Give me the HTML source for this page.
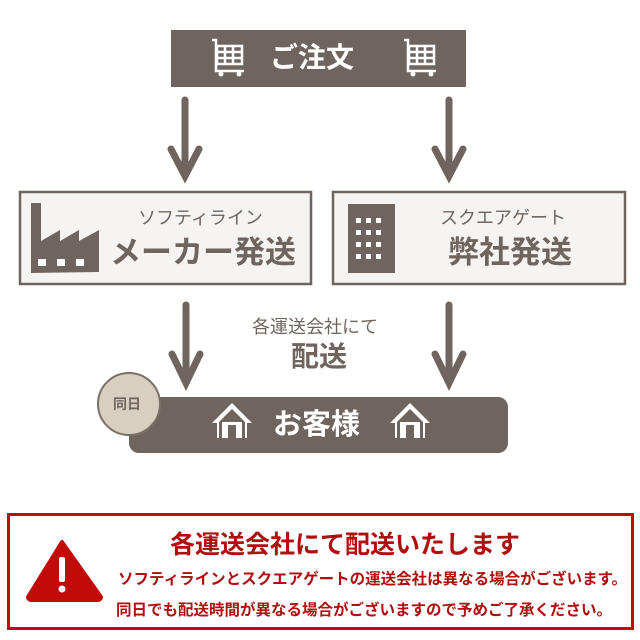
<!DOCTYPE html>
<html><head><meta charset="utf-8"><style>
body{margin:0;width:640px;height:640px;background:#fff;position:relative;overflow:hidden;font-family:"Liberation Sans","Noto Sans CJK JP",sans-serif;}
.a{position:absolute}
.t{position:absolute;white-space:nowrap;font-weight:bold}
</style></head><body>
<svg class="a" style="left:0;top:0" width="640" height="640">
<rect x="171" y="30" width="295" height="57" fill="#70655e"/>
<g fill="none" stroke="#fff" stroke-width="2.5">
<path d="M212 40 h4 v31 h28"/><rect x="217" y="46" width="25" height="18"/><path d="M217 52h25M217 58h25M225 46v18M233 46v18"/>
<path d="M404 40 h4 v31 h28"/><rect x="409" y="46" width="25" height="18"/><path d="M409 52h25M409 58h25M417 46v18M425 46v18"/>
</g>
<g fill="#fff"><circle cx="221" cy="74" r="2.5"/><circle cx="239" cy="74" r="2.5"/><circle cx="413" cy="74" r="2.5"/><circle cx="431" cy="74" r="2.5"/></g>
<g stroke="#70655e" stroke-width="7" fill="none" stroke-linecap="round">
<path d="M185 100V174M171 149l14 27 14-27"/>
<path d="M449 100V174M435 149l14 27 14-27"/>
<path d="M186 305V382M172 354l14 29 14-29"/>
<path d="M449 305V382M435 354l14 29 14-29"/>
</g>
<rect x="20" y="192" width="291" height="92" fill="#f6f4f2" stroke="#70655e" stroke-width="2.5"/>
<rect x="333" y="192" width="292" height="92" fill="#f6f4f2" stroke="#70655e" stroke-width="2.5"/>
<path d="M31 273V203h10v38l19-11v11l19-11v11l20-11v42z" fill="#70655e"/>
<g fill="#fff"><rect x="38" y="259" width="8" height="7"/><rect x="57" y="259" width="8" height="7"/><rect x="76" y="259" width="8" height="7"/></g>
<rect x="348" y="204" width="47" height="69" fill="#70655e"/>
<g fill="#fff"><rect x="356" y="218" width="5" height="5"/><rect x="366" y="218" width="5" height="5"/><rect x="376" y="218" width="5" height="5"/><rect x="356" y="230" width="5" height="5"/><rect x="366" y="230" width="5" height="5"/><rect x="376" y="230" width="5" height="5"/><rect x="356" y="242" width="5" height="5"/><rect x="366" y="242" width="5" height="5"/><rect x="376" y="242" width="5" height="5"/><rect x="356" y="254" width="5" height="5"/><rect x="366" y="254" width="5" height="5"/><rect x="376" y="254" width="5" height="5"/></g>
<rect x="129" y="397" width="379" height="56" rx="10" fill="#70655e"/>
<circle cx="129" cy="404" r="31" fill="#d8cfc1" stroke="#7b7068" stroke-width="2"/>
<g fill="#fff"><path d="M232 403l-20 20h5v15h30v-15h5z"/><path d="M410 403l-20 20h5v15h30v-15h5z"/></g>
<g fill="#70655e"><path d="M232 409l-13 13v16h26v-16z"/><path d="M410 409l-13 13v16h26v-16z"/></g>
<g fill="#fff"><rect x="222" y="422" width="6" height="16"/><rect x="236" y="422" width="6" height="16"/><rect x="228" y="422" width="8" height="3"/><rect x="400" y="422" width="6" height="16"/><rect x="414" y="422" width="6" height="16"/><rect x="406" y="422" width="8" height="3"/></g>
<rect x="8.5" y="514.5" width="624" height="114" fill="#fff" stroke="#c10a0a" stroke-width="3"/>
<path d="M62 542L28 597a3 3 0 0 0 3 3h67a3 3 0 0 0 3-3z" fill="#c10a0a" stroke="#c10a0a" stroke-width="4" stroke-linejoin="round"/>
<rect x="59" y="557" width="6" height="25" rx="2" fill="#fff"/><circle cx="62" cy="589" r="3.5" fill="#fff"/>
</svg>
<div class="t" style="left:270px;top:41px;font-size:28px;color:#fff;line-height:34px">ご注文</div>
<div class="t" style="left:138px;top:206px;font-size:18px;color:#70655e;font-weight:normal;line-height:24px">ソフティライン</div>
<div class="t" style="left:110px;top:234px;font-size:31px;color:#70655e;line-height:38px">メーカー発送</div>
<div class="t" style="left:440px;top:206px;font-size:18px;color:#70655e;font-weight:normal;line-height:24px">スクエアゲート</div>
<div class="t" style="left:448px;top:234px;font-size:31px;color:#70655e;line-height:38px">弊社発送</div>
<div class="t" style="left:252px;top:315px;font-size:18px;color:#70655e;font-weight:normal;line-height:24px">各運送会社にて</div>
<div class="t" style="left:291px;top:340px;font-size:28px;color:#70655e;line-height:34px">配送</div>
<div class="t" style="left:113px;top:395px;font-size:14px;color:#70655e;line-height:18px">同日</div>
<div class="t" style="left:273px;top:408px;font-size:29px;color:#fff;line-height:34px">お客様</div>
<div class="t" style="left:170px;top:530px;font-size:25px;color:#b00f0f;line-height:30px">各運送会社にて配送いたします</div>
<div class="t" style="left:118px;top:569px;font-size:15.5px;color:#b00f0f;line-height:22px">ソフティラインとスクエアゲートの運送会社は異なる場合がございます。</div>
<div class="t" style="left:116px;top:600px;font-size:15.5px;color:#b00f0f;line-height:22px">同日でも配送時間が異なる場合がございますので予めご了承ください。</div>
</body></html>
